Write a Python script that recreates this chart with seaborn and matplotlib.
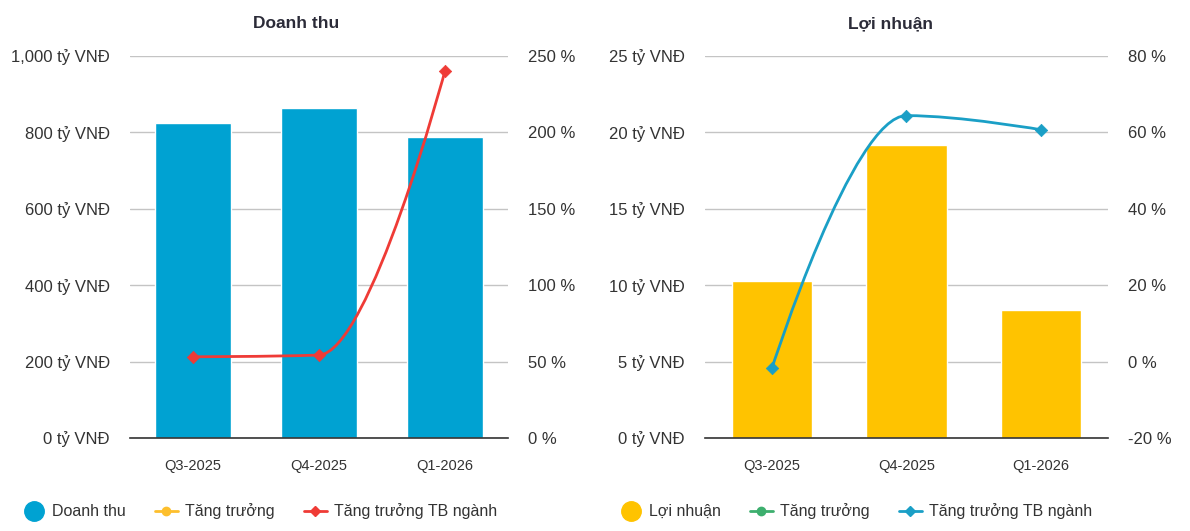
import numpy as np
import pandas as pd
import matplotlib
matplotlib.use("Agg")
import matplotlib.pyplot as plt
import seaborn as sns
from matplotlib.path import Path
from matplotlib.patches import PathPatch
from matplotlib.lines import Line2D
from matplotlib.ticker import FuncFormatter, MultipleLocator

# -----------------------------
# Data
# -----------------------------
quarters = ["Q3-2025", "Q4-2025", "Q1-2026"]
revenue = [825, 865, 789]                  # tỷ VNĐ
revenue_industry_growth = [53.2, 54.3, 240.4]   # %
profit = [10.3, 19.2, 8.4]                 # tỷ VNĐ
profit_industry_growth = [-1.6, 64.4, 60.7]     # %

BLUE_BAR = "#00a2d2"
YELLOW_BAR = "#ffc300"
RED_LINE = "#ef3b36"
BLUE_LINE = "#1a9fc6"
YELLOW_LINE = "#fdbf2d"
GREEN_LINE = "#3daf6e"
TEXT = "#333333"
TITLE = "#2b2b38"
GRID = "#c4c4c4"

sns.set_theme(style="white")
plt.rcParams["font.family"] = ["Liberation Sans", "DejaVu Sans"]


def spline_path(xs, ys, smoothing=1.5):
    """Bezier path that mimics a Highcharts 'spline' through the points."""
    n = len(xs)
    lefts, rights = [None] * n, [None] * n
    d = smoothing + 1
    for i in range(1, n - 1):
        x, y = xs[i], ys[i]
        lx = (smoothing * x + xs[i - 1]) / d
        ly = (smoothing * y + ys[i - 1]) / d
        rx = (smoothing * x + xs[i + 1]) / d
        ry = (smoothing * y + ys[i + 1]) / d
        if rx != lx:
            corr = (ry - ly) * (rx - x) / (rx - lx) + y - ry
            ly += corr
            ry += corr
        if ly > ys[i - 1] and ly > y:
            ly = max(ys[i - 1], y); ry = 2 * y - ly
        elif ly < ys[i - 1] and ly < y:
            ly = min(ys[i - 1], y); ry = 2 * y - ly
        if ry > ys[i + 1] and ry > y:
            ry = max(ys[i + 1], y); ly = 2 * y - ry
        elif ry < ys[i + 1] and ry < y:
            ry = min(ys[i + 1], y); ly = 2 * y - ry
        lefts[i] = (lx, ly)
        rights[i] = (rx, ry)
    verts = [(xs[0], ys[0])]
    codes = [Path.MOVETO]
    for i in range(1, n):
        c1 = rights[i - 1] or (xs[i - 1], ys[i - 1])
        c2 = lefts[i] or (xs[i], ys[i])
        verts += [c1, c2, (xs[i], ys[i])]
        codes += [Path.CURVE4] * 3
    return Path(verts, codes)


def panel(ax, bars, bar_color, growth, line_color, ylim, ystep, y2lim, y2step, left_fmt):
    df = pd.DataFrame({"q": quarters, "v": bars, "g": growth})
    sns.barplot(data=df, x="q", y="v", color=bar_color, width=0.6, saturation=1,
                ax=ax, zorder=2)
    ax.set_xlim(-0.5, 2.5)
    ax.set_ylim(*ylim)
    ax.yaxis.set_major_locator(MultipleLocator(ystep))
    ax.yaxis.set_major_formatter(FuncFormatter(left_fmt))
    ax.grid(axis="y", color=GRID, linewidth=1, zorder=0)
    ax.set_axisbelow(True)
    ax.set_xlabel("")
    ax.set_ylabel("")
    for s in ["left", "right", "top"]:
        ax.spines[s].set_visible(False)
    ax.spines["bottom"].set_color(TEXT)
    ax.spines["bottom"].set_linewidth(1.2)
    ax.tick_params(axis="y", length=0, pad=14.5, labelsize=12, labelcolor=TEXT)
    ax.tick_params(axis="x", length=0, pad=15, labelsize=10.5, labelcolor=TEXT)

    ax2 = ax.twinx()
    ax2.set_ylim(*y2lim)
    ax2.yaxis.set_major_locator(MultipleLocator(y2step))
    ax2.yaxis.set_major_formatter(FuncFormatter(lambda v, p: f"{v:.0f} %"))
    for s in ax2.spines.values():
        s.set_visible(False)
    ax2.tick_params(axis="y", length=0, pad=14.5, labelsize=12, labelcolor=TEXT)
    ax2.grid(False)
    xpos = list(range(len(quarters)))
    ax2.add_patch(PathPatch(spline_path(xpos, growth), facecolor="none",
                            edgecolor=line_color, linewidth=2, zorder=3))
    sns.scatterplot(x=xpos, y=growth, marker="D", s=40, color=line_color,
                    edgecolor=line_color, ax=ax2, zorder=4, legend=False)
    ax2.set_xlim(-0.5, 2.5)
    return ax2


fig = plt.figure(figsize=(11.9, 5.31), dpi=100)
ax_l = fig.add_axes([0.1092, 0.1751, 0.3177, 0.7194])
ax_r = fig.add_axes([0.5924, 0.1751, 0.3387, 0.7194])

panel(ax_l, revenue, BLUE_BAR, revenue_industry_growth, RED_LINE,
      (0, 1000), 200, (0, 250), 50, lambda v, p: f"{v:,.0f} tỷ VNĐ")
panel(ax_r, profit, YELLOW_BAR, profit_industry_growth, BLUE_LINE,
      (0, 25), 5, (-20, 80), 20, lambda v, p: f"{v:.0f} tỷ VNĐ")

fig.text(0.249, 0.955, "Doanh thu", ha="center", va="center", fontsize=12.5,
         fontweight="bold", color=TITLE)
fig.text(0.748, 0.955, "Lợi nhuận", ha="center", va="center", fontsize=12.5,
         fontweight="bold", color=TITLE)


def legend(x0, bar_label, bar_color, g_color, ind_color):
    handles = [
        Line2D([], [], linestyle="none", marker="o", markersize=14,
               color=bar_color),
        Line2D([], [], color=g_color, linewidth=2, marker="o", markersize=6),
        Line2D([], [], color=ind_color, linewidth=2, marker="D", markersize=5),
    ]
    labels = [bar_label, "Tăng trưởng", "Tăng trưởng TB ngành"]
    fig.legend(handles, labels, loc="center left", bbox_to_anchor=(x0, 0.037),
               ncol=3, frameon=False, fontsize=11.5, labelcolor=TEXT,
               borderpad=0, borderaxespad=0,
               handlelength=1.44, handletextpad=0.44, columnspacing=1.82)


legend(22 / 1190, "Doanh thu", BLUE_BAR, YELLOW_LINE, RED_LINE)
legend(619 / 1190, "Lợi nhuận", YELLOW_BAR, GREEN_LINE, BLUE_LINE)

fig.savefig("out.png", dpi=100, facecolor="white")
